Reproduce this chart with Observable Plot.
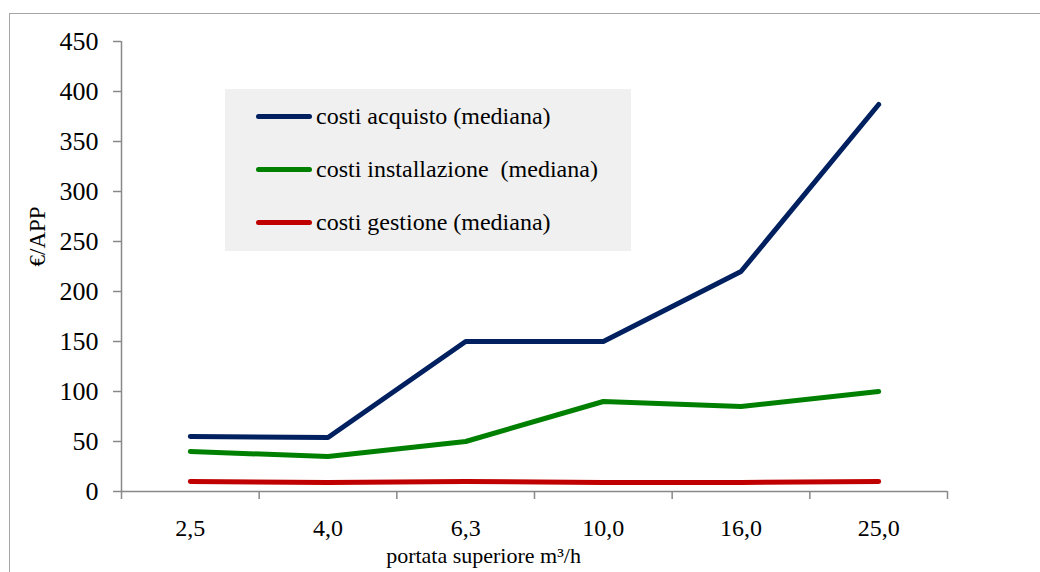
<!DOCTYPE html>
<html>
<head>
<meta charset="utf-8">
<script src="https://cdn.jsdelivr.net/npm/d3@7"></script>
<script src="https://cdn.jsdelivr.net/npm/@observablehq/plot@0.6"></script>
<style>
  html, body { margin: 0; padding: 0; background: #fff; overflow: hidden; }
  #wrap { position: relative; width: 1040px; height: 572px; overflow: hidden; font-family: 'Liberation Serif', 'Times New Roman', serif; }
  #frame { position: absolute; left: 9px; top: 13px; width: 1200px; height: 700px; border: 1.5px solid #a6a6a6; box-sizing: border-box; pointer-events: none; }
  #legend { position: absolute; left: 225px; top: 89px; width: 406px; height: 162px; background: #f0f0f0; }
  .row { position: absolute; left: 0; height: 30px; }
  .sw { position: absolute; left: 31px; width: 56px; height: 5px; border-radius: 3px; }
  .lab { position: absolute; left: 91px; font-size: 24px; white-space: pre; color: #000; line-height: 30px; top: -15px; font-family: 'Liberation Serif', 'Times New Roman', serif; }
  svg { position: absolute; left: 0; top: 0; }
  svg text { font-family: 'Liberation Serif', 'Times New Roman', serif; }
</style>
</head>
<body>
<div id="wrap"></div>
<script>
const categories = ["2,5", "4,0", "6,3", "10,0", "16,0", "25,0"];
const acquisto = [55, 54, 150, 150, 220, 387];
const installazione = [40, 35, 50, 90, 85, 100];
const gestione = [10, 9, 10, 9, 9, 10];
const seriesNames = ["costi acquisto (mediana)", "costi installazione  (mediana)", "costi gestione (mediana)"];
const seriesColors = ["#002060", "#008000", "#c00000"];
const yTicks = [0, 50, 100, 150, 200, 250, 300, 350, 400, 450];
const xTitle = "portata superiore m³/h";
const yTitle = "€/APP";

const FONT = "'Liberation Serif', 'Times New Roman', serif";
const allSeries = [acquisto, installazione, gestione];
const idx = d3.range(categories.length);
const bounds = d3.range(categories.length + 1).map(i => i - 0.5);

const lineMarks = allSeries.map((vals, s) =>
  Plot.line(idx, {x: i => i, y: i => vals[i], stroke: seriesColors[s], strokeWidth: 5, strokeLinecap: "round", strokeLinejoin: "round"})
);

const chart = Plot.plot({
  width: 1040,
  height: 572,
  marginLeft: 121,
  marginRight: 93,
  marginTop: 41,
  marginBottom: 81,
  style: {fontFamily: FONT, background: "transparent", overflow: "visible"},
  x: {type: "linear", domain: [-0.5, categories.length - 0.5]},
  y: {domain: [0, 450]},
  marks: [
    Plot.ruleY([0], {stroke: "#898989", strokeWidth: 1.5}),
    Plot.ruleX([-0.5], {stroke: "#898989", strokeWidth: 1.5}),
    Plot.axisY(yTicks, {tickSize: 8, tickPadding: 15, fontSize: 26, fontFamily: FONT, stroke: "#898989", strokeWidth: 1.5, fill: "#000", label: null}),
    Plot.axisX(bounds, {tickSize: 8, tickFormat: () => "", stroke: "#898989", strokeWidth: 1.5, label: null}),
    Plot.axisX(idx, {tickSize: 0, tickPadding: 27, tickFormat: i => categories[i], fontSize: 24, fontFamily: FONT, fill: "#000", label: null}),
    ...lineMarks,
    Plot.text([xTitle], {text: d => d, frameAnchor: "bottom", dx: -51, dy: 71, fontSize: 22, fontFamily: FONT, fill: "#000"}),
    Plot.text([yTitle], {text: d => d, frameAnchor: "left", dx: -84, rotate: -90, fontSize: 23, fontFamily: FONT, fill: "#000"})
  ]
});

const wrap = document.getElementById("wrap");
wrap.appendChild(chart);
const frame = document.createElement("div");
frame.id = "frame";
wrap.appendChild(frame);

const legend = document.createElement("div");
legend.id = "legend";
const rowY = [27, 80, 133];
seriesNames.forEach((name, s) => {
  const row = document.createElement("div");
  row.className = "row";
  row.style.top = rowY[s] + "px";
  const sw = document.createElement("div");
  sw.className = "sw";
  sw.style.background = seriesColors[s];
  sw.style.top = "-2.5px";
  const lab = document.createElement("div");
  lab.className = "lab";
  lab.textContent = name;
  row.appendChild(sw);
  row.appendChild(lab);
  legend.appendChild(row);
});
wrap.appendChild(legend);
</script>
</body>
</html>
